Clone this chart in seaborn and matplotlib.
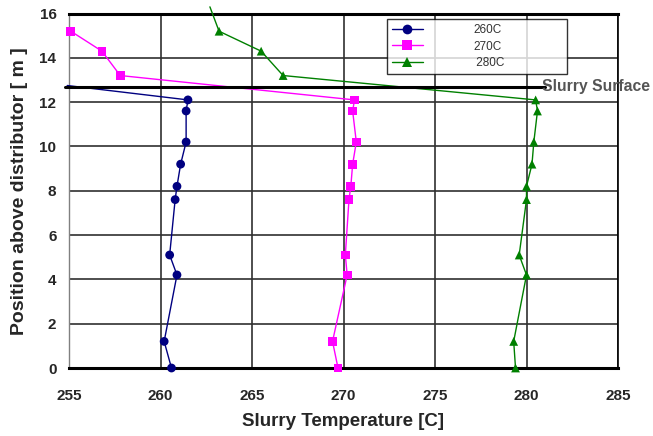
import numpy as np
import pandas as pd
import matplotlib
matplotlib.use("Agg")
import matplotlib.pyplot as plt
import seaborn as sns
from matplotlib.lines import Line2D

# ---- data ----
series_names = ["260C", "270C", "280C"]
legend_labels = ["260C", "270C", " 280C"]
heights_below = [12.1, 11.6, 10.2, 9.2, 8.2, 7.6, 5.1, 4.2, 1.2, 0.0]
heights_above = [15.2, 14.3, 13.2]

t260_below = [261.5, 261.4, 261.4, 261.1, 260.9, 260.8, 260.5, 260.9, 260.2, 260.6]
t270_below = [270.6, 270.5, 270.7, 270.5, 270.4, 270.3, 270.1, 270.2, 269.4, 269.7]
t280_below = [280.5, 280.6, 280.4, 280.3, 280.0, 280.0, 279.6, 280.0, 279.3, 279.4]

t270_above = [255.1, 256.8, 257.8]
t280_above = [263.2, 265.5, 266.7]

# line ends that run off the plot area
t260_end, h260_end = 254.9, 12.75
t280_end, h280_end = 262.7, 16.3

surface_height = 12.7
surface_t = [254.8, 281.0]
surface_label = "Slurry Surface"

x_ticks = [255, 260, 265, 270, 275, 280, 285]
y_ticks = [0, 2, 4, 6, 8, 10, 12, 14, 16]

colors = {"260C": "#000080", "270C": "#FF00FF", "280C": "#008000"}
markers = {"260C": "o", "270C": "s", "280C": "^"}

# long-form table, in drawing order (top -> bottom)
rows = []
rows.append(("260C", t260_end, h260_end, False))
for t, h in zip(t260_below, heights_below):
    rows.append(("260C", t, h, True))
for t, h in zip(t270_above, heights_above):
    rows.append(("270C", t, h, True))
for t, h in zip(t270_below, heights_below):
    rows.append(("270C", t, h, True))
rows.append(("280C", t280_end, h280_end, False))
for t, h in zip(t280_above, heights_above):
    rows.append(("280C", t, h, True))
for t, h in zip(t280_below, heights_below):
    rows.append(("280C", t, h, True))
df = pd.DataFrame(rows, columns=["series", "temp", "height", "marked"])

sns.set_theme(style="white")
plt.rcParams["font.family"] = ["Liberation Sans", "DejaVu Sans"]

fig = plt.figure(figsize=(6.53, 4.36), dpi=100)
ax = fig.add_axes([69 / 653, 1 - 368 / 436, 549 / 653, (368 - 13.5) / 436])

# grid
for xv in x_ticks:
    ax.axvline(xv, color="#303030", lw=1.2, zorder=0)
for yv in y_ticks:
    ax.axhline(yv, color="#303030", lw=1.2, zorder=0)

# lines (no markers)
for name in series_names:
    sub = df[df.series == name]
    sns.lineplot(data=sub, x="temp", y="height", sort=False, estimator=None,
                 color=colors[name], lw=1.0, ax=ax, legend=False, clip_on=False,
                 zorder=3)
# markers
marked = df[df.marked]
sns.scatterplot(data=marked, x="temp", y="height", hue="series", style="series",
                palette=colors, markers=markers, s=40, edgecolor=None,
                linewidth=0, ax=ax, legend=False, zorder=4, clip_on=False)

# slurry surface
ax.plot(surface_t, [surface_height, surface_height], color="black", lw=2.2,
        zorder=5, clip_on=False)
ax.text(280.85, surface_height + 0.02, surface_label, fontsize=11.3,
        fontweight="bold", color="#555555", va="center", ha="left", zorder=6)

ax.set_xlim(255, 285)
ax.set_ylim(0, 16)
ax.set_xticks(x_ticks)
ax.set_yticks(y_ticks)
ax.tick_params(axis="x", labelsize=11, length=0, pad=15)
ax.tick_params(axis="y", labelsize=11, length=0, pad=9)
for lab in ax.get_xticklabels() + ax.get_yticklabels():
    lab.set_fontweight("bold")
ax.set_xlabel("Slurry Temperature [C]", fontsize=13.5, fontweight="bold", labelpad=7)
ax.set_ylabel("Position above distributor [ m ]", fontsize=14, fontweight="bold", labelpad=8)

for side in ["top", "bottom"]:
    ax.spines[side].set_color("black")
    ax.spines[side].set_linewidth(2.2)
ax.spines["right"].set_color("black")
ax.spines["right"].set_linewidth(1.2)
ax.spines["left"].set_color("#808080")
ax.spines["left"].set_linewidth(1.0)

# legend
handles = [Line2D([0], [0], color=colors[n], marker=markers[n], lw=1.0,
                  markersize=7, markeredgewidth=0) for n in series_names]
leg_x0 = (386.7 - 69) / 549
leg_w = 180 / 549
leg = ax.legend(handles, legend_labels, loc="upper left", mode="expand",
                bbox_to_anchor=(leg_x0, 0.75, leg_w, 0.234), borderaxespad=0,
                fontsize=8.5, handlelength=2.6, handletextpad=4.3, frameon=True,
                fancybox=False, borderpad=0.45, labelspacing=0.35)
leg.get_frame().set_edgecolor("black")
leg.get_frame().set_linewidth(1.0)
leg.set_zorder(10)
for t in leg.get_texts():
    t.set_color("#333333")

fig.savefig("out.png", dpi=100)
